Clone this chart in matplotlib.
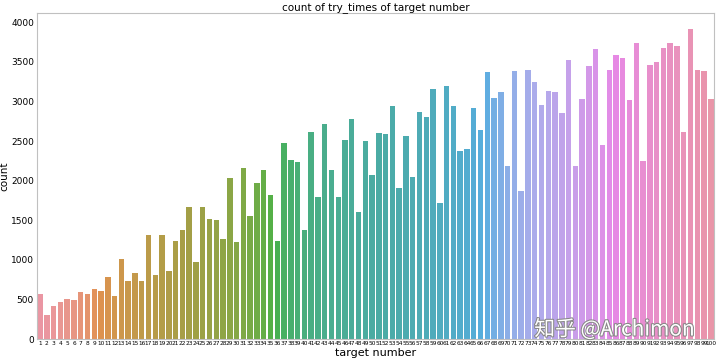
import matplotlib
matplotlib.use("Agg")
import matplotlib.pyplot as plt
import matplotlib.patheffects as pe
import seaborn as sns

targets = list(range(1, 101))
counts = [
    573, 299, 413, 467, 501, 488, 594, 573, 627, 606,
    779, 539, 1015, 733, 838, 728, 1314, 808, 1309, 859,
    1238, 1373, 1672, 968, 1667, 1512, 1499, 1259, 2029, 1225,
    2156, 1549, 1966, 2131, 1819, 1242, 2476, 2265, 2240, 1381,
    2615, 1794, 2716, 2131, 1794, 2509, 2783, 1608, 2497, 2076,
    2602, 2589, 2947, 1907, 2568, 2051, 2863, 2800, 3158, 1714,
    3192, 2947, 2371, 2396, 2914, 2636, 3368, 3048, 3116, 2189,
    3389, 1874, 3398, 3251, 2960, 3137, 3116, 2859, 3524, 2189,
    3032, 3448, 3659, 2446, 3394, 3587, 3554, 3023, 3739, 2244,
    3457, 3495, 3680, 3735, 3705, 2615, 3916, 3394, 3381, 3036,
]

# old seaborn countplot default for many categories: husl l=.7, saturation .75
colors = [sns.desaturate(c, 0.75) for c in sns.husl_palette(len(targets), l=0.7)]

fig = plt.figure(figsize=(7.2, 3.6), dpi=100)
ax = fig.add_axes([0.051, 0.058, 0.941, 0.905])
pos = list(range(len(targets)))
ax.bar(pos, counts, width=0.8, color=colors, linewidth=0)
ax.set_xlim(-0.5, len(targets) - 0.5)
ax.set_xticks(pos, labels=[str(t) for t in targets], fontsize=4.2)
ax.tick_params(axis="x", length=0, pad=1.5)
ax.tick_params(axis="y", labelsize=6.5, length=0, pad=2)
for s in ax.spines.values():
    s.set_color("#c0c0c0")
    s.set_linewidth(0.8)

ax.set_title("count of try_times of target number", fontsize=7.5, pad=2)
ax.set_xlabel("target number", fontsize=8, labelpad=1)
ax.set_ylabel("count", fontsize=7.5, labelpad=1)

# watermark sitting just above the tick labels
fig.text(0.742, 0.068, "知乎 @Archimon", fontsize=15, color="white",
         family=["Noto Sans CJK SC", "DejaVu Sans"],
         path_effects=[pe.withStroke(linewidth=1.5, foreground="#888888")])

fig.savefig("out.png", dpi=100)
